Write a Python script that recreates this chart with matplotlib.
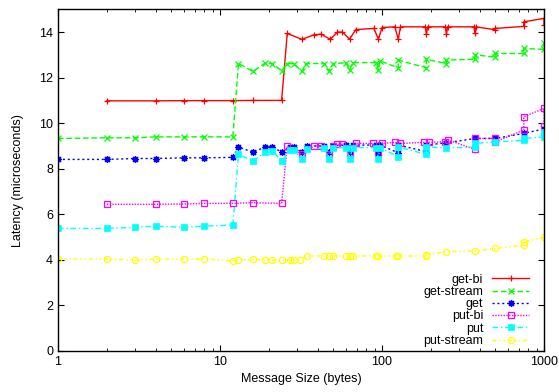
#Latency vs message size for the get/put variants (gnuplot style chart)
import matplotlib
matplotlib.use('Agg')
import matplotlib.pyplot as plt

plt.rcParams['font.family'] = ['Liberation Sans', 'DejaVu Sans']

#Message sizes (bytes) and latencies (microseconds)
getbi_x = [2, 4, 6, 8, 12, 16, 24, 26, 32, 38, 42, 48, 53, 57, 63, 69, 89, 95, 100,
           120, 126, 130, 185, 188, 191, 246, 250, 254, 370, 375, 380, 500, 500, 750, 750, 1000, 1000]
getbi_y = [10.98, 10.98, 10.99, 10.99, 10.99, 11.0, 11.0, 13.94, 13.68, 13.88, 13.91, 13.68, 14.0, 14.0, 13.69, 14.11, 14.16, 13.69, 14.2,
           14.23, 13.69, 14.23, 14.23, 13.9, 14.23, 14.23, 13.9, 14.23, 14.23, 13.94, 14.23, 14.1, 14.16, 14.25, 14.45, 14.6, 14.3]

getstream_x = [1, 2, 3, 4, 6, 8, 12, 13, 16, 19, 21, 24, 26, 28.5, 32, 34, 44, 47, 50,
               60, 63, 66, 92, 95, 97, 126, 126, 188, 188, 250, 250, 375, 375, 500, 500, 750, 750, 1000, 1000]
getstream_y = [9.33, 9.36, 9.36, 9.4, 9.4, 9.4, 9.4, 12.62, 12.27, 12.64, 12.62, 12.3, 12.62, 12.62, 12.27, 12.62, 12.62, 12.3, 12.62,
               12.65, 12.33, 12.66, 12.66, 12.33, 12.74, 12.43, 12.77, 12.43, 12.8, 12.62, 12.77, 12.81, 13.0, 12.9, 13.06, 13.06, 13.28, 13.24, 13.5]

get_x = [1, 2, 3, 4, 6, 8, 12, 13, 16, 19, 21, 24, 27, 28.5, 32, 34.5, 44, 47, 50,
         60, 63, 66, 92, 95, 97, 126, 126, 188, 188, 250, 375, 500, 750, 1000]
get_y = [8.41, 8.41, 8.45, 8.45, 8.48, 8.48, 8.5, 8.96, 8.72, 8.96, 8.96, 8.73, 8.96, 8.96, 8.72, 9.0, 9.0, 8.72, 9.02,
         9.04, 8.75, 9.04, 9.04, 8.7, 9.04, 8.7, 9.04, 8.75, 9.04, 9.14, 9.33, 9.33, 9.55, 9.75]

putbi_x = [2, 4, 6, 8, 12, 16, 24, 26, 32, 38, 42, 47, 50, 53, 57, 63, 69, 88, 95, 100,
           120, 130, 182, 194, 244, 256, 375, 375, 500, 500, 750, 750, 1000, 1000]
putbi_y = [6.44, 6.44, 6.45, 6.48, 6.48, 6.51, 6.48, 9.0, 8.63, 9.0, 9.0, 8.64, 9.0, 9.07, 9.07, 8.7, 9.11, 9.11, 8.7, 9.11,
           9.16, 9.11, 9.16, 9.16, 9.18, 9.26, 8.85, 9.33, 9.33, 9.18, 9.7, 10.28, 10.65, 9.86]

put_x = [1, 2, 3, 4, 6, 8, 12, 13, 16, 19, 21, 24, 27, 28.5, 32, 34.5, 44, 47, 50,
         60, 63, 66, 92, 95, 97, 126, 126, 188, 188, 250, 375, 375, 500, 750, 750, 1000, 1000]
put_y = [5.38, 5.38, 5.43, 5.48, 5.43, 5.48, 5.53, 8.64, 8.34, 8.73, 8.79, 8.34, 8.82, 8.82, 8.41, 8.86, 8.92, 8.41, 8.93,
         8.93, 8.41, 8.93, 8.93, 8.45, 8.93, 8.53, 8.96, 8.63, 8.96, 8.92, 8.94, 9.11, 9.18, 9.25, 9.33, 9.4, 9.62]

putstream_x = [1, 2, 3, 4, 6, 8, 12, 13, 16, 19, 21, 24, 27, 28.5, 31, 34.5, 44, 47, 50,
               60, 63, 66, 92, 95, 122, 126, 188, 188, 250, 375, 500, 750, 750, 1000]
putstream_y = [4.04, 4.04, 3.99, 4.04, 4.04, 4.04, 3.96, 3.99, 4.02, 3.99, 3.99, 3.99, 3.99, 3.99, 3.99, 4.17, 4.17, 4.17, 4.17,
               4.17, 4.17, 4.17, 4.17, 4.17, 4.17, 4.17, 4.17, 4.23, 4.36, 4.39, 4.5, 4.65, 4.8, 4.99]

fig = plt.figure(figsize=(5.59, 3.92), dpi=100)
ax = fig.add_axes([0.1038, 0.1046, 0.8694, 0.8717])

ax.plot(getbi_x, getbi_y, color='#ff0000', lw=1, marker='+', ms=5, mew=0.9, label='get-bi')
ax.plot(getstream_x, getstream_y, color='#00ff00', lw=1, ls=(0, (4, 2)), marker='x', ms=4, mew=0.9, label='get-stream')
ax.plot(get_x, get_y, color='#0000ff', lw=1, ls=(0, (1.5, 2)), marker=(8, 2, 0), ms=5, mew=0.9, label='get')
ax.plot(putbi_x, putbi_y, color='#ff00ff', lw=1, ls=(0, (1, 1)), marker='s', ms=4.5, mew=0.9, mfc='none', label='put-bi')
ax.plot(put_x, put_y, color='#00ffff', lw=1, ls=(0, (4, 2, 1, 2)), marker='s', ms=4.5, mew=0.5, label='put')
ax.plot(putstream_x, putstream_y, color='#ffff00', lw=1, ls=(0, (3, 2, 1, 2, 1, 2)), marker='o', ms=4.5, mew=0.9, mfc='none', label='put-stream')

ax.set_xscale('log')
ax.set_xlim(1, 1000)
ax.set_ylim(0, 15)
ax.set_yticks(range(0, 15, 2))
ax.set_xticks([1, 10, 100, 1000])
ax.set_xticklabels(['1', '10', '100', '1000'])
ax.tick_params(which='both', direction='in', top=True, right=True, labelsize=9, color='black')
ax.tick_params(which='major', length=4, width=0.8)
ax.tick_params(which='minor', length=2.5, width=0.6)
for s in ax.spines.values():
    s.set_linewidth(1)

ax.set_xlabel('Message Size (bytes)', fontsize=9, labelpad=4)
ax.set_ylabel('Latency (microseconds)', fontsize=9, labelpad=11)

ax.legend(loc='lower right', bbox_to_anchor=(0.97, 0.012), frameon=False, markerfirst=False,
          fontsize=9, handlelength=3, handletextpad=0.7, labelspacing=0.02, borderpad=0, borderaxespad=0)

fig.savefig('out.png', dpi=100)
